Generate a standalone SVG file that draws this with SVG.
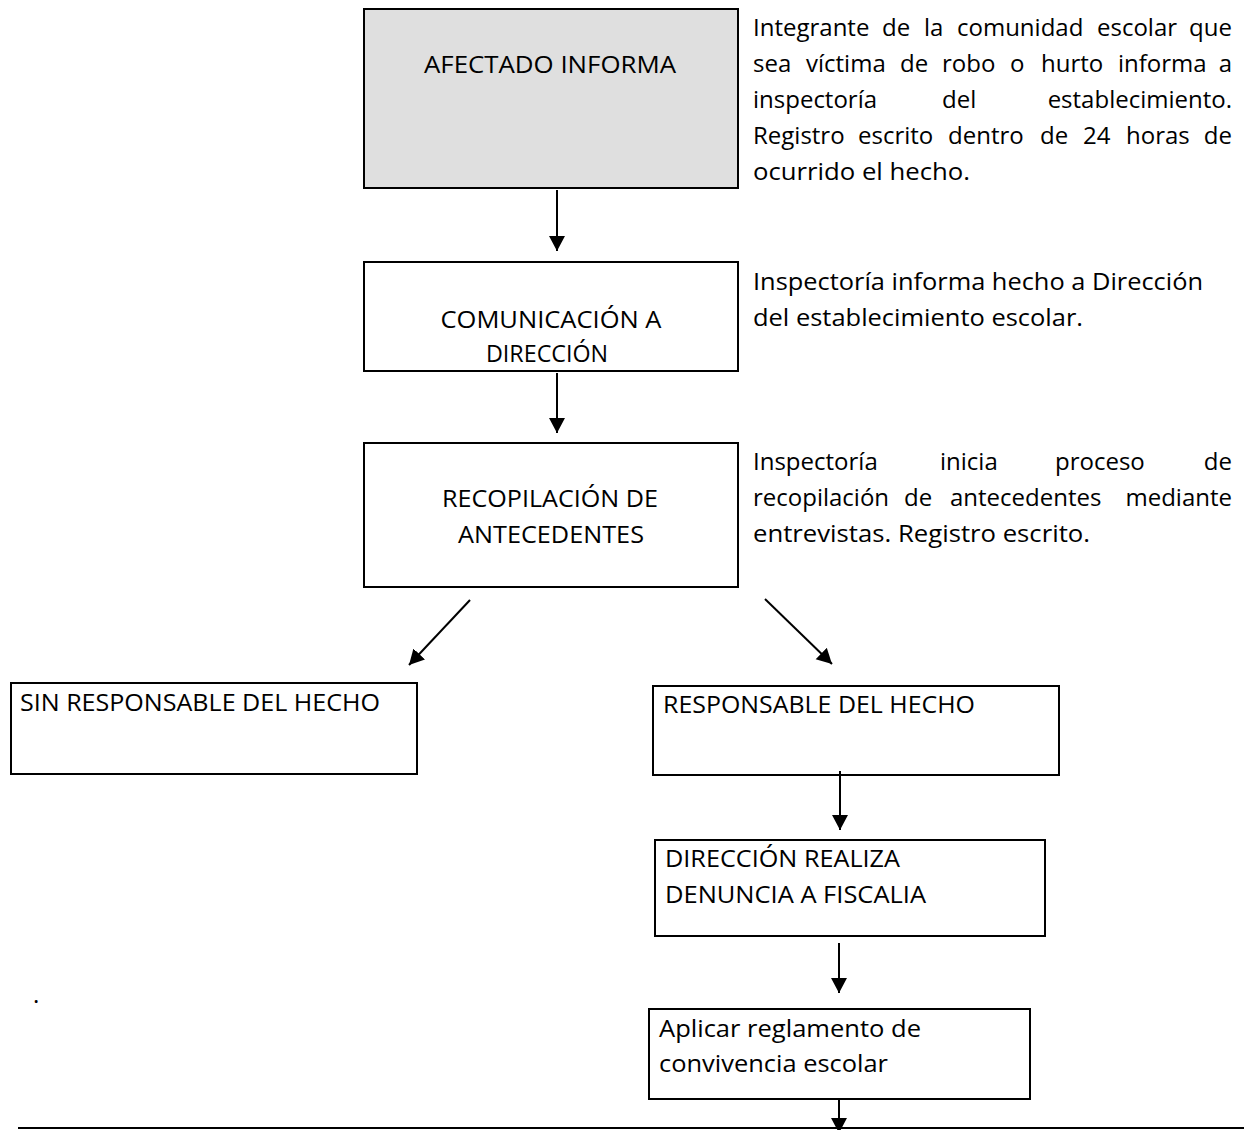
<svg xmlns="http://www.w3.org/2000/svg" width="1244" height="1130" viewBox="0 0 1244 1130">
  <style>
    .box { fill: #ffffff; stroke: #000000; stroke-width: 2; }
    .box.shaded { fill: #dfdfdf; }
    .t { font-family: "Open Sans", Lato, "Liberation Sans", sans-serif; font-size: 24px; fill: #000000; }
    .c { text-anchor: middle; }
    .e { text-anchor: end; }
    .conn { stroke: #000000; stroke-width: 2; fill: none; marker-end: url(#head); }
  </style>
  <defs>
    <marker id="head" markerUnits="userSpaceOnUse" markerWidth="17" markerHeight="17" refX="15" refY="8" orient="auto">
      <path d="M0,0 L15,8 L0,16 Z" fill="#000000"/>
    </marker>
  </defs>

  <rect width="1244" height="1130" fill="#ffffff"/>

  <!-- flow nodes -->
  <g id="afectado-informa">
    <rect class="box shaded" x="364" y="9" width="374" height="179"/>
    <text class="t c" x="550" y="73" textLength="252" lengthAdjust="spacingAndGlyphs">AFECTADO INFORMA</text>
  </g>

  <!-- justified description column, 753..1232: words placed one by one -->
  <g id="nota-afectado">
    <text class="t" y="36"><tspan x="753">Integrante</tspan><tspan x="882">de</tspan><tspan x="924">la</tspan><tspan x="957">comunidad</tspan><tspan x="1097">escolar</tspan><tspan class="e" x="1232">que</tspan></text>
    <text class="t" y="72"><tspan x="753">sea</tspan><tspan x="806">víctima</tspan><tspan x="900">de</tspan><tspan x="942">robo</tspan><tspan x="1010">o</tspan><tspan x="1041">hurto</tspan><tspan x="1118">informa</tspan><tspan class="e" x="1232">a</tspan></text>
    <text class="t" y="108"><tspan x="753">inspectoría</tspan><tspan x="942">del</tspan><tspan class="e" x="1232">establecimiento.</tspan></text>
    <text class="t" y="144"><tspan x="753">Registro</tspan><tspan x="858">escrito</tspan><tspan x="948">dentro</tspan><tspan x="1040">de</tspan><tspan x="1083">24</tspan><tspan x="1126">horas</tspan><tspan class="e" x="1232">de</tspan></text>
    <text class="t" x="753" y="180" textLength="217" lengthAdjust="spacingAndGlyphs">ocurrido el hecho.</text>
  </g>

  <g id="comunicacion-direccion">
    <rect class="box" x="364" y="262" width="374" height="109"/>
    <text class="t c" x="551" y="328" textLength="221" lengthAdjust="spacingAndGlyphs">COMUNICACIÓN A</text>
    <text class="t c" x="547" y="362" textLength="122" lengthAdjust="spacingAndGlyphs">DIRECCIÓN</text>
  </g>

  <g id="nota-comunicacion">
    <text class="t" x="753" y="290" textLength="450" lengthAdjust="spacingAndGlyphs">Inspectoría informa hecho a Dirección</text>
    <text class="t" x="753" y="326" textLength="330" lengthAdjust="spacingAndGlyphs">del establecimiento escolar.</text>
  </g>

  <g id="recopilacion-antecedentes">
    <rect class="box" x="364" y="443" width="374" height="144"/>
    <text class="t c" x="550" y="507" textLength="216" lengthAdjust="spacingAndGlyphs">RECOPILACIÓN DE</text>
    <text class="t c" x="551" y="543" textLength="186" lengthAdjust="spacingAndGlyphs">ANTECEDENTES</text>
  </g>

  <g id="nota-recopilacion">
    <text class="t" y="470"><tspan x="753">Inspectoría</tspan><tspan x="940">inicia</tspan><tspan x="1055">proceso</tspan><tspan class="e" x="1232">de</tspan></text>
    <text class="t" y="506"><tspan x="753">recopilación</tspan><tspan x="904">de</tspan><tspan x="950">antecedentes</tspan><tspan class="e" x="1232">mediante</tspan></text>
    <text class="t" x="753" y="542" textLength="337" lengthAdjust="spacingAndGlyphs">entrevistas. Registro escrito.</text>
  </g>

  <g id="sin-responsable">
    <rect class="box" x="11" y="683" width="406" height="91"/>
    <text class="t" x="20" y="711" textLength="360" lengthAdjust="spacingAndGlyphs">SIN RESPONSABLE DEL HECHO</text>
  </g>

  <g id="responsable">
    <rect class="box" x="653" y="686" width="406" height="89"/>
    <text class="t" x="663" y="713" textLength="312" lengthAdjust="spacingAndGlyphs">RESPONSABLE DEL HECHO</text>
  </g>

  <g id="denuncia-fiscalia">
    <rect class="box" x="655" y="840" width="390" height="96"/>
    <text class="t" x="665" y="867" textLength="235" lengthAdjust="spacingAndGlyphs">DIRECCIÓN REALIZA</text>
    <text class="t" x="665" y="903" textLength="261" lengthAdjust="spacingAndGlyphs">DENUNCIA A FISCALIA</text>
  </g>

  <g id="reglamento-convivencia">
    <rect class="box" x="649" y="1009" width="381" height="90"/>
    <text class="t" x="659" y="1037" textLength="262" lengthAdjust="spacingAndGlyphs">Aplicar reglamento de</text>
    <text class="t" x="659" y="1072" textLength="229" lengthAdjust="spacingAndGlyphs">convivencia escolar</text>
  </g>

  <text class="t" x="33" y="1003">.</text>

  <!-- connectors -->
  <g id="connectors">
    <line class="conn" x1="557" y1="190" x2="557" y2="251"/>
    <line class="conn" x1="557" y1="373" x2="557" y2="433"/>
    <line class="conn" x1="470" y1="600" x2="409" y2="665"/>
    <line class="conn" x1="765" y1="599" x2="832" y2="664"/>
    <line class="conn" x1="840" y1="771" x2="840" y2="830"/>
    <line class="conn" x1="839" y1="943" x2="839" y2="993"/>
    <line class="conn" x1="839" y1="1100" x2="839" y2="1133"/>
    <line x1="18" y1="1128" x2="1244" y2="1128" stroke="#000000" stroke-width="2"/>
  </g>
</svg>
